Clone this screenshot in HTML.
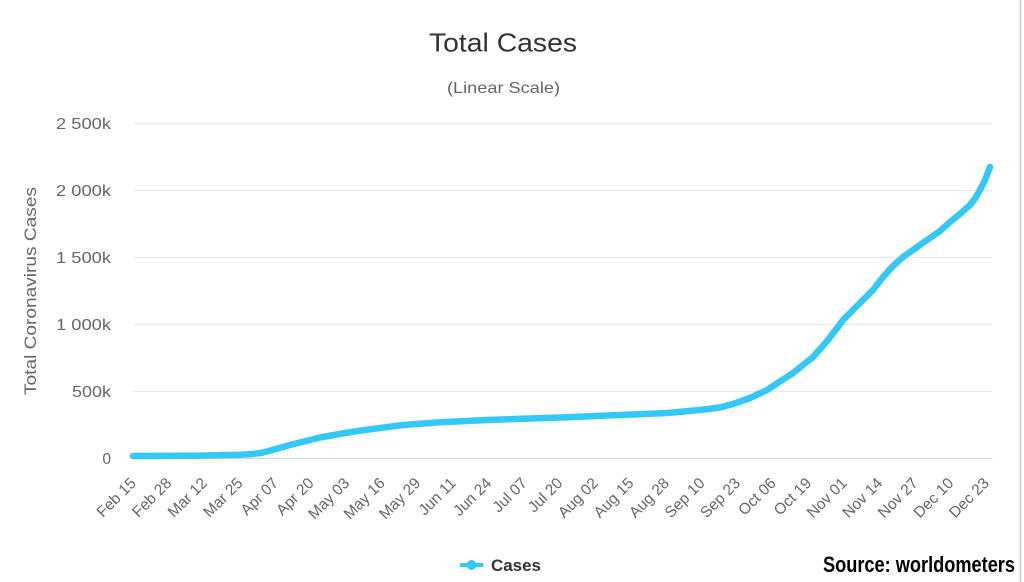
<!DOCTYPE html>
<html><head><meta charset="utf-8"><style>
html,body{margin:0;padding:0;background:#fff;}
svg{display:block;}
</style></head><body>
<svg width="1024" height="582" viewBox="0 0 1024 582" xmlns="http://www.w3.org/2000/svg" font-family="'Liberation Sans', sans-serif">
<rect width="1024" height="582" fill="#fff"/>
<line x1="1020.5" y1="0" x2="1020.5" y2="582" stroke="#c8c8c8" stroke-width="1.5"/>
<text x="503" y="51.5" text-anchor="middle" font-size="26" fill="#333" textLength="148" lengthAdjust="spacingAndGlyphs">Total Cases</text>
<text x="503.5" y="93" text-anchor="middle" font-size="16" fill="#666" textLength="113" lengthAdjust="spacingAndGlyphs">(Linear Scale)</text>
<g stroke="#e6e6e6" stroke-width="1">
<line x1="133" y1="123.5" x2="992" y2="123.5"/>
<line x1="133" y1="190.5" x2="992" y2="190.5"/>
<line x1="133" y1="257.5" x2="992" y2="257.5"/>
<line x1="133" y1="324.5" x2="992" y2="324.5"/>
<line x1="133" y1="391.5" x2="992" y2="391.5"/>
</g>
<line x1="133" y1="458.5" x2="992" y2="458.5" stroke="#ccd6eb" stroke-width="1"/>
<g font-size="15.5" fill="#666" text-anchor="end">
<text x="111" y="129" textLength="55" lengthAdjust="spacingAndGlyphs">2 500k</text>
<text x="111" y="196" textLength="55" lengthAdjust="spacingAndGlyphs">2 000k</text>
<text x="111" y="263" textLength="55" lengthAdjust="spacingAndGlyphs">1 500k</text>
<text x="111" y="330" textLength="55" lengthAdjust="spacingAndGlyphs">1 000k</text>
<text x="111" y="397" textLength="39" lengthAdjust="spacingAndGlyphs">500k</text>
<text x="111" y="464">0</text>
</g>
<text transform="translate(36,291) rotate(-90)" text-anchor="middle" font-size="17" fill="#666" textLength="208" lengthAdjust="spacingAndGlyphs">Total Coronavirus Cases</text>
<g font-size="15.5" fill="#666" text-anchor="end">
<text transform="translate(137,484) rotate(-45)">Feb 15</text>
<text transform="translate(172.5,484) rotate(-45)">Feb 28</text>
<text transform="translate(208.1,484) rotate(-45)">Mar 12</text>
<text transform="translate(243.6,484) rotate(-45)">Mar 25</text>
<text transform="translate(279.2,484) rotate(-45)">Apr 07</text>
<text transform="translate(314.7,484) rotate(-45)">Apr 20</text>
<text transform="translate(350.3,484) rotate(-45)">May 03</text>
<text transform="translate(385.8,484) rotate(-45)">May 16</text>
<text transform="translate(421.3,484) rotate(-45)">May 29</text>
<text transform="translate(456.9,484) rotate(-45)">Jun 11</text>
<text transform="translate(492.4,484) rotate(-45)">Jun 24</text>
<text transform="translate(528,484) rotate(-45)">Jul 07</text>
<text transform="translate(563.5,484) rotate(-45)">Jul 20</text>
<text transform="translate(599,484) rotate(-45)">Aug 02</text>
<text transform="translate(634.6,484) rotate(-45)">Aug 15</text>
<text transform="translate(670.1,484) rotate(-45)">Aug 28</text>
<text transform="translate(705.7,484) rotate(-45)">Sep 10</text>
<text transform="translate(741.2,484) rotate(-45)">Sep 23</text>
<text transform="translate(776.8,484) rotate(-45)">Oct 06</text>
<text transform="translate(812.3,484) rotate(-45)">Oct 19</text>
<text transform="translate(847.8,484) rotate(-45)">Nov 01</text>
<text transform="translate(883.4,484) rotate(-45)">Nov 14</text>
<text transform="translate(918.9,484) rotate(-45)">Nov 27</text>
<text transform="translate(954.5,484) rotate(-45)">Dec 10</text>
<text transform="translate(990,484) rotate(-45)">Dec 23</text>
</g>
<polyline fill="none" stroke="#34c8f8" stroke-width="6.5" stroke-linejoin="round" stroke-linecap="round"
points="133,456 200,455.6 240,454.8 253,454 263,452.5 276,449 290,445 320,437.5 345,433 360,430.7 380,428 403,425 440,422.3 487,420 560,417.5 620,415 667,413 700,410 720,407.5 733,404 750,398 767,390 793,373 813,357 828,340 843,320 858,305 873,290 883,277 893,266 903,257 915,248.5 927,240 940,231 950,222 961,213 970,205 976,197 980,190 985,180 990,167"/>
<line x1="460" y1="565" x2="483" y2="565" stroke="#34c8f8" stroke-width="4"/>
<circle cx="471.5" cy="565" r="5" fill="#34c8f8"/>
<text x="491" y="571" font-size="17" font-weight="bold" fill="#333" textLength="50" lengthAdjust="spacingAndGlyphs">Cases</text>
<text x="823" y="572" font-size="22" font-weight="bold" fill="#000" textLength="192" lengthAdjust="spacingAndGlyphs">Source: worldometers</text>
</svg>
</body></html>
